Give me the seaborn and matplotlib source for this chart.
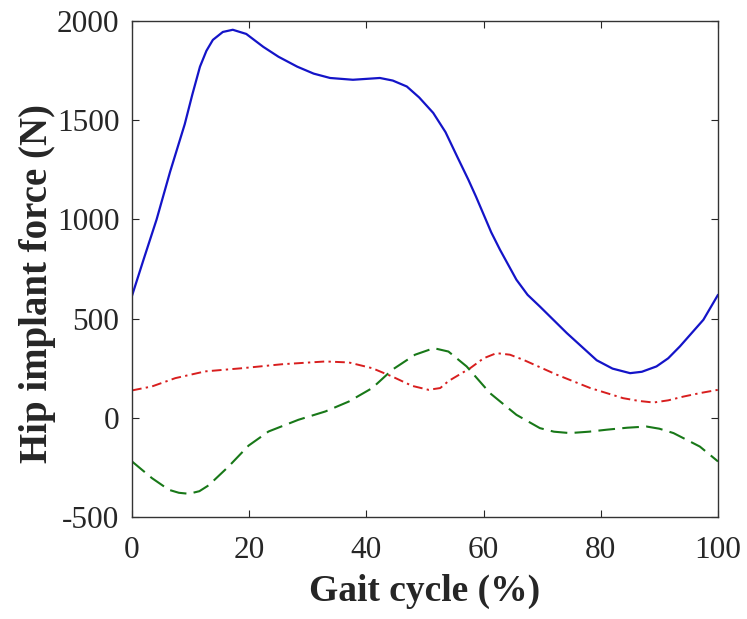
import matplotlib
matplotlib.use("Agg")
import matplotlib.pyplot as plt
import seaborn as sns

# Werte (Gangzyklus in %)
gait_blue = [0, 2, 4.2, 6.5, 9, 10.3, 11.6, 12.7, 13.8, 15.5, 17.2, 19.5, 22.4, 25, 28.2, 31, 33.8, 37.7,
             42.3, 44.5, 46.9, 49, 51.4, 53.5, 55.5, 57.4, 58.7, 59.9, 61.3, 62.8, 65.6, 67.5, 69.6, 74.2, 79.3, 82, 85,
             87, 89.5, 91.5, 93.5, 97.5, 100]
force_blue = [615, 800, 1000, 1240, 1480, 1630, 1770, 1850, 1905, 1945, 1956, 1935, 1870, 1820, 1770, 1735, 1713, 1704,
              1713, 1700, 1670, 1615, 1537, 1440, 1316, 1200, 1115, 1032, 935, 847, 696, 620, 561, 427, 290, 248, 225,
              232, 259, 300, 360, 494, 620]

gait_red = [0, 3.4, 7.4, 12.5, 18.8, 25.6, 33, 37, 41, 44.4, 47.8, 50.6, 52.6, 54, 57.7, 60,
            62.2, 64.5, 66.8, 72.5, 78.2, 83.8, 86.5, 89, 91.5, 94.1, 97, 100]
force_red = [138, 158, 200, 234, 250, 270, 284, 279, 250, 208, 161, 141, 150, 185, 250, 300,
             326, 318, 292, 217, 150, 99, 85, 77, 88, 107, 125, 141]

gait_green = [0, 3.4, 6.3, 8, 9.7, 11.5, 13.1, 16.5, 19.9, 23.3, 28.4, 33, 37, 41, 44.4, 48.3, 51.5,
              54, 57.1, 61.1, 65.6, 69.6, 72, 74.7, 78, 81, 84.5, 87.8, 90, 92.4, 96.9, 100]
force_green = [-220, -304, -363, -378, -383, -370, -340, -245, -140, -69, -10, 32, 82, 150, 242, 318, 351,
               334, 259, 124, 15, -52, -70, -77, -70, -60, -50, -44, -55, -77, -145, -220]

sns.set_style("ticks")
plt.rcParams['font.family'] = ['Liberation Serif', 'DejaVu Serif']
plt.rcParams['axes.unicode_minus'] = False

fig = plt.figure(figsize=(7.47, 6.19), dpi=100)
ax = fig.add_axes([0.1767, 0.1648, 0.7845, 0.8012])

sns.lineplot(x=gait_blue, y=force_blue, ax=ax, color='#1414c8', lw=1.6, sort=False)
sns.lineplot(x=gait_red, y=force_red, ax=ax, color='#d81e1e', lw=1.4, linestyle=(0, (5, 2.2, 1.2, 2.2)), sort=False)
sns.lineplot(x=gait_green, y=force_green, ax=ax, color='#187818', lw=1.5, linestyle=(0, (8, 3.5)), sort=False)

ax.set_xlim(0, 100)
ax.set_ylim(-500, 2000)
ax.set_xticks([0, 20, 40, 60, 80, 100])
ax.set_yticks([-500, 0, 500, 1000, 1500, 2000])
ax.tick_params(direction='in', length=5, top=True, right=True, labelsize=22.5, width=0.8)
ax.tick_params(axis='x', pad=14)
ax.tick_params(axis='y', pad=9)
for s in ax.spines.values():
    s.set_linewidth(1.0)
    s.set_color('#333333')

ax.set_xlabel('Gait cycle (%)', fontsize=27, fontweight='bold', labelpad=6)
ax.set_ylabel('Hip implant force (N)', fontsize=28, fontweight='bold')
ax.yaxis.set_label_coords(-0.13, 0.47)

fig.savefig('out.png', dpi=100)
